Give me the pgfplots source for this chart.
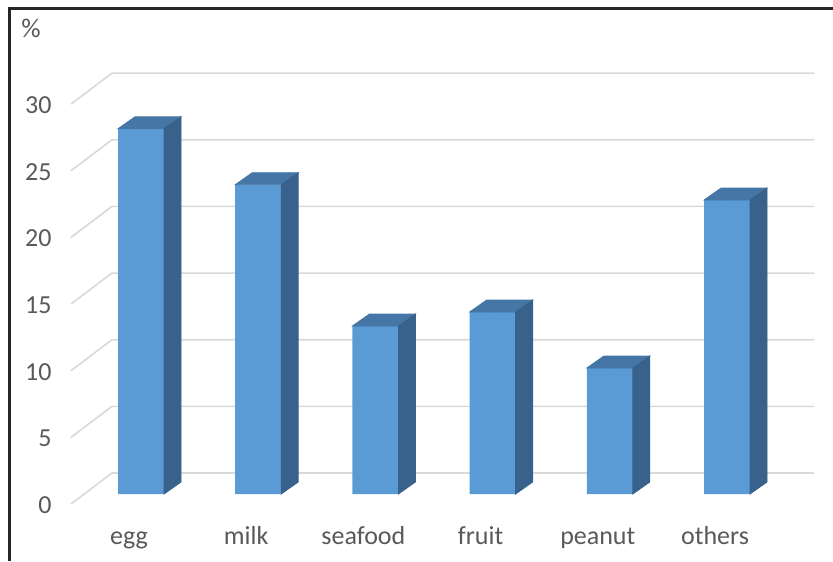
\documentclass[border=0pt]{standalone}
\usepackage{fontspec}
\setmainfont{Carlito}
\usepackage{pgfplots}
\usepackage{pgfplotstable}
\pgfplotsset{compat=1.18}
\definecolor{frontc}{HTML}{5B9BD5}
\definecolor{topc}{HTML}{4576A6}
\definecolor{sidec}{HTML}{38628C}
\definecolor{gridc}{HTML}{D9D9D9}
\definecolor{txtc}{HTML}{595959}

\pgfplotstableread{
x v
0 27.4
1 23.2
2 12.6
3 13.65
4 9.45
5 22.05
}\datatab

\begin{document}
\begin{tikzpicture}
\useasboundingbox (0,0) rectangle (416.5pt,280.5pt);
\begin{axis}[
 at={(0pt,0pt)}, anchor=south west,
 scale only axis, width=416.5pt, height=280.5pt,
 xmin=-1.2031, xmax=5.9044, ymin=-5.026, ymax=37.06,
 clip=false,
 axis line style={draw=none},
 major tick length=0pt,
 xtick={0,...,5},
 xticklabels={egg,milk,seafood,fruit,peanut,others},
 ytick={0,5,...,30},
 /pgf/number format/assume math mode=true,
 tick label style={font=\fontsize{13}{15}\selectfont, text=txtc, inner sep=0pt},
 xticklabel style={anchor=base, yshift=8.3pt, xshift=-6pt},
 yticklabel style={anchor=east, xshift=26pt, yshift=-5.5pt},
]
% floor / back wall grid
\addplot[gridc, line width=0.8pt] coordinates {(-0.5973,-0.75) (-0.2474,1.575) (5.7423,1.575)};
\addplot[gridc, line width=0.8pt] coordinates {(-0.5973,4.25) (-0.2474,6.575) (5.7423,6.575)};
\addplot[gridc, line width=0.8pt] coordinates {(-0.5973,9.25) (-0.2474,11.575) (5.7423,11.575)};
\addplot[gridc, line width=0.8pt] coordinates {(-0.5973,14.25) (-0.2474,16.575) (5.7423,16.575)};
\addplot[gridc, line width=0.8pt] coordinates {(-0.5973,19.25) (-0.2474,21.575) (5.7423,21.575)};
\addplot[gridc, line width=0.8pt] coordinates {(-0.5973,24.25) (-0.2474,26.575) (5.7423,26.575)};
\addplot[gridc, line width=0.8pt] coordinates {(-0.5973,29.25) (-0.2474,31.575) (5.7423,31.575)};
% front faces
\addplot[ybar, bar shift=0pt, bar width=23pt, fill=frontc, draw=none] table[x=x,y=v]{\datatab};
% top and side faces
\addplot[only marks, mark=*, mark size=0pt, mark options={draw=none,fill=none},
 scatter, visualization depends on={y \as \val},
 scatter/@pre marker code/.code={%
   \scope
   \pgfmathsetmacro\hA{-\val*6.665}%
   \pgfmathsetmacro\hB{6-\val*6.665}%
   \fill[topc] (-11.5pt,0pt) -- (-3pt,6pt) -- (20pt,6pt) -- (11.5pt,0pt) -- cycle;
   \fill[sidec] (11.5pt,0pt) -- (20pt,6pt) -- (20pt,\hB pt) -- (11.5pt,\hA pt) -- cycle;
 },
 scatter/@post marker code/.code={\endscope}
] table[x=x,y=v]{\datatab};
\node[text=txtc, font=\fontsize{13.5}{15}\selectfont] at (rel axis cs:0.0372,0.950) {\%};
\draw[line width=1.2pt, black!85, line join=miter]
  (rel axis cs:0.0114,0) -- (rel axis cs:0.0114,0.9847) -- (rel axis cs:1,0.9847);
\end{axis}
\end{tikzpicture}
\end{document}
